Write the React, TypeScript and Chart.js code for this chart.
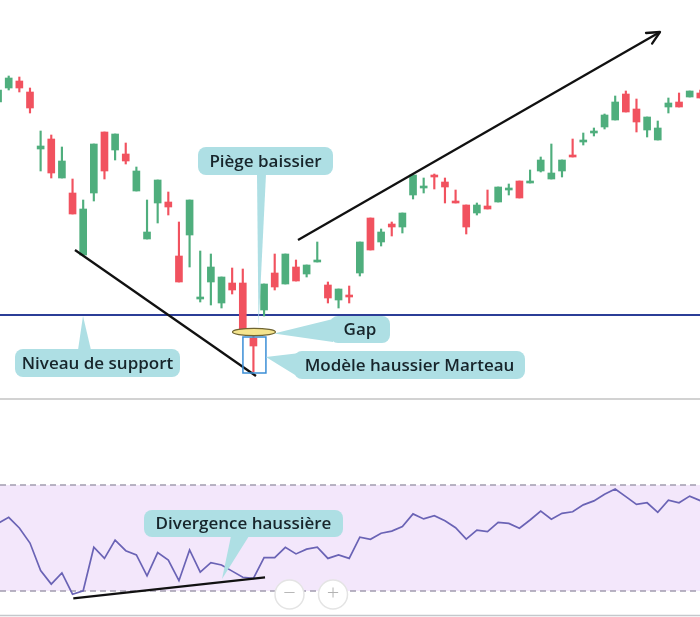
import { useEffect, useRef } from 'react';
import { Chart, registerables } from 'chart.js';

Chart.register(...registerables);

// ---- Data (price units, one entry per session) ----
const openP = [149,156,159.5,154,125.5,130.5,111,103.5,72.5,103.5,134,125,123,104.5,80.5,98.5,99,72,82.5,50.5,59,48.5,58.5,58.5,31,45,63.5,58,66.5,63,69,57.5,50,52.5,63.5,91,79,88,86.5,102.5,106,112.5,109,99.5,97.5,93.5,97,99,105,109.5,108.5,114.5,110.5,114.5,122.5,129,133.5,136.5,140,153,145.5,135,130,146.5,149,151.5,153.5];
const highP = [157,162,161.5,156,134.5,132.5,126.5,110.5,100,128,134,133,128.5,116.5,100,110,104,89,100,74.5,73,61.5,66,65.5,32.5,58,73,73,70,67.5,79,59,55.5,57,79,91,85.5,89,93.5,112.5,111,113,111,105,97.5,98.5,105,106.5,108,109.5,115,121.5,128,120,130.5,133.5,136,143,152,154.5,150.5,141.5,139.5,151,153.5,154.5,155];
const lowP = [147,155,154,143.5,114.5,111,111,93,72.5,99.5,110.5,120,118,104.5,80.5,88.5,92.5,59,66.5,49,47.5,46,53,35,14,42,55,58,59.5,61.5,69,48.5,46,48.5,62,75,77,82,83.5,100.5,103.5,105.5,98.5,98.5,83,92.5,95.5,99,102.5,101,108.5,114,110.5,111.5,121.5,127.5,132,135.5,140,144,134,131.5,130,143.5,146.5,151.5,151];
const closeP = [155,161,156,146,127,113.5,119.5,93,95.5,128,114.5,133,119.5,114.5,84,110,96.5,59,100,51.5,66.5,61.5,55,35.5,27,58,56.5,73,59.5,67.5,70,51,55.5,51.5,79,75,84,86.5,93.5,112.5,107,111.5,106.5,98.5,86.5,97.5,95.5,106.5,106,101,109.5,120,113.5,120,121.5,130,134.5,142.5,149,144,139,141.5,136,148.5,146.5,154.5,151];
const rsi = [55.5,57.8,53.8,48.1,37.7,32.6,36.8,28.8,30.1,46.5,42.3,49.2,45.2,43.6,35.7,44.5,41.7,33.9,45.5,37.1,40.7,39.8,37.5,35.2,34.8,42.6,42.6,46.5,44.0,45.8,46.5,42.3,43.6,42.3,50.3,49.5,51.8,52.6,54.3,59.1,57.2,58.4,56.5,53.9,49.6,53.0,52.4,55.9,55.5,53.7,56.8,60.2,57.1,59.3,59.9,62.5,64.0,66.5,68.5,65.6,62.7,63.3,59.7,64.3,63.3,65.8,64.1];

const supportLevel = 42.5;
const rsiUpper = 70;
const rsiLower = 30;
const downTrend = [[7.23, 75], [24.24, 12]];
const upTrend = [[28.19, 80], [62.21, 184]];
const rsiDivergence = [[7.07, 27.25], [25.09, 35.17]];
const gapIndex = 23;
const hammerIndex = 24;

const labelTrap = 'Piège baissier';
const labelGap = 'Gap';
const labelHammer = 'Modèle haussier Marteau';
const labelSupport = 'Niveau de support';
const labelDivergence = 'Divergence haussière';

// ---- Styles ----
const GREEN = '#4fae7d';
const RED = '#f1525f';
const TEAL = '#aedfe4';
const TEXT = '#17252b';
const FONT = '600 17px "Open Sans", sans-serif';
const X_MIN = 0.182;
const X_MAX = 65.97;

function callout(ctx: CanvasRenderingContext2D, box: number[], tail: number[][], text: string) {
  const [x, y, w, h] = box;
  ctx.save();
  ctx.fillStyle = TEAL;
  ctx.beginPath();
  ctx.roundRect(x, y, w, h, 8);
  ctx.fill();
  ctx.beginPath();
  ctx.moveTo(tail[0][0], tail[0][1]);
  for (let i = 1; i < tail.length; i++) ctx.lineTo(tail[i][0], tail[i][1]);
  ctx.closePath();
  ctx.fill();
  ctx.fillStyle = TEXT;
  ctx.font = FONT;
  ctx.textAlign = 'center';
  ctx.textBaseline = 'middle';
  ctx.fillText(text, x + w / 2, y + h / 2 + 1);
  ctx.restore();
}

function line(ctx: CanvasRenderingContext2D, x1: number, y1: number, x2: number, y2: number, color: string, w: number) {
  ctx.save();
  ctx.strokeStyle = color;
  ctx.lineWidth = w;
  ctx.beginPath();
  ctx.moveTo(x1, y1);
  ctx.lineTo(x2, y2);
  ctx.stroke();
  ctx.restore();
}

export default function App() {
  const topRef = useRef<HTMLCanvasElement>(null);
  const botRef = useRef<HTMLCanvasElement>(null);

  useEffect(() => {
    const colors = openP.map((o, i) => (closeP[i] >= o ? GREEN : RED));

    const topPlugin = {
      id: 'topAnno',
      beforeDatasetsDraw(chart: any) {
        const { ctx, scales } = chart;
        const y = scales.y.getPixelForValue(supportLevel);
        line(ctx, 0, y, 700, y, '#2b3d97', 2);
      },
      afterDatasetsDraw(chart: any) {
        const { ctx, scales } = chart;
        const px = (v: number) => scales.x.getPixelForValue(v);
        const py = (v: number) => scales.y.getPixelForValue(v);
        // down trend line
        line(ctx, px(downTrend[0][0]), py(downTrend[0][1]), px(downTrend[1][0]), py(downTrend[1][1]), '#111', 2.3);
        // up trend arrow
        const ax1 = px(upTrend[0][0]), ay1 = py(upTrend[0][1]);
        const ax2 = px(upTrend[1][0]), ay2 = py(upTrend[1][1]);
        line(ctx, ax1, ay1, ax2, ay2, '#111', 2.3);
        const ang = Math.atan2(ay2 - ay1, ax2 - ax1);
        const L = 14;
        ctx.save();
        ctx.strokeStyle = '#111';
        ctx.lineWidth = 2.3;
        ctx.lineCap = 'round';
        ctx.lineJoin = 'round';
        ctx.beginPath();
        ctx.moveTo(ax2 - L * Math.cos(ang - 0.45), ay2 - L * Math.sin(ang - 0.45));
        ctx.lineTo(ax2, ay2);
        ctx.lineTo(ax2 - L * Math.cos(ang + 0.45), ay2 - L * Math.sin(ang + 0.45));
        ctx.stroke();
        ctx.restore();

        // hammer rectangle
        const hx = px(hammerIndex);
        const hTop = py(highP[hammerIndex]) + 2;
        const hBot = py(lowP[hammerIndex]) + 1;
        ctx.save();
        ctx.strokeStyle = '#3b8ed6';
        ctx.lineWidth = 1.5;
        ctx.strokeRect(hx - 10.5, hTop, 23, hBot - hTop);
        ctx.restore();

        // callouts
        const sy = py(supportLevel);
        callout(ctx, [15, 349, 165, 28], [[78, 350], [91, 350], [83, sy + 1]], labelSupport);
        callout(ctx, [198, 147, 135, 28], [[257, 174], [266, 174], [258.5, 327]], labelTrap);
        const gx = px(gapIndex + 1.05);
        const gy = py((closeP[gapIndex] + openP[gapIndex + 1]) / 2);
        callout(ctx, [330, 316, 60, 27], [[gx + 20, gy], [333, 319], [333, 342]], labelGap);
        callout(ctx, [294, 351, 231, 28], [[hx + 12.5, (hTop + hBot) / 2 + 2], [300, 353], [300, 378]], labelHammer);

        // gap ellipse
        ctx.save();
        ctx.fillStyle = '#f4e48e';
        ctx.strokeStyle = '#6f6431';
        ctx.lineWidth = 1.2;
        ctx.beginPath();
        ctx.ellipse(gx, gy - 1.5, 21.5, 3.6, 0, 0, Math.PI * 2);
        ctx.fill();
        ctx.stroke();
        ctx.restore();

        // panel separator
        line(ctx, 0, 399, 700, 399, '#d2d2d2', 2);
      },
    };

    const top = new Chart(topRef.current!, {
      type: 'bar',
      data: {
        datasets: [
          {
            data: openP.map((o, i) => ({ x: i, y: [o, closeP[i]] })) as any,
            backgroundColor: colors,
            barThickness: 7,
            minBarLength: 2,
            grouped: false,
          } as any,
          {
            data: lowP.map((l, i) => ({ x: i, y: [l, highP[i]] })) as any,
            backgroundColor: colors,
            barThickness: 1.5,
            grouped: false,
          } as any,
        ],
      },
      options: {
        animation: false,
        responsive: false,
        layout: { padding: 0 },
        plugins: { legend: { display: false }, tooltip: { enabled: false } },
        scales: {
          x: { type: 'linear', min: X_MIN, max: X_MAX, offset: false, display: false },
          y: { min: 0, max: 200, display: false },
        },
      },
      plugins: [topPlugin],
    });

    const botPlugin = {
      id: 'botAnno',
      beforeDatasetsDraw(chart: any) {
        const { ctx, scales } = chart;
        const yU = scales.y.getPixelForValue(rsiUpper);
        const yL = scales.y.getPixelForValue(rsiLower);
        ctx.save();
        ctx.fillStyle = '#f3e7fb';
        ctx.fillRect(0, yU, 700, yL - yU);
        ctx.strokeStyle = '#a39db0';
        ctx.lineWidth = 1.3;
        ctx.setLineDash([6, 4]);
        ctx.beginPath();
        ctx.moveTo(0, yU);
        ctx.lineTo(700, yU);
        ctx.moveTo(0, yL);
        ctx.lineTo(700, yL);
        ctx.stroke();
        ctx.restore();
      },
      afterDatasetsDraw(chart: any) {
        const { ctx, scales } = chart;
        const px = (v: number) => scales.x.getPixelForValue(v);
        const py = (v: number) => scales.y.getPixelForValue(v);
        line(ctx, px(rsiDivergence[0][0]), py(rsiDivergence[0][1]), px(rsiDivergence[1][0]), py(rsiDivergence[1][1]), '#111', 2.2);
        callout(ctx, [144, 110, 199, 27], [[231, 136], [249, 136], [222, 179]], labelDivergence);
        // zoom buttons
        const btns: [number, string][] = [[289.5, '−'], [333, '+']];
        btns.forEach(([bx, s]) => {
          ctx.save();
          ctx.fillStyle = '#ffffff';
          ctx.strokeStyle = '#e4e4e4';
          ctx.lineWidth = 1.5;
          ctx.beginPath();
          ctx.arc(bx, 194.5, 14.5, 0, Math.PI * 2);
          ctx.fill();
          ctx.stroke();
          ctx.fillStyle = '#b3b3b3';
          ctx.font = '300 22px "Open Sans", sans-serif';
          ctx.textAlign = 'center';
          ctx.textBaseline = 'middle';
          ctx.fillText(s, bx, 193.5);
          ctx.restore();
        });
        line(ctx, 0, 215.5, 700, 215.5, '#c4c8cc', 1.5);
      },
    };

    const bot = new Chart(botRef.current!, {
      type: 'line',
      data: {
        datasets: [
          {
            data: rsi.map((v, i) => ({ x: i, y: v })),
            borderColor: '#6a63b5',
            borderWidth: 1.7,
            pointRadius: 0,
            tension: 0,
            fill: false,
          },
        ],
      },
      options: {
        animation: false,
        responsive: false,
        layout: { padding: 0 },
        plugins: { legend: { display: false }, tooltip: { enabled: false } },
        scales: {
          x: { type: 'linear', min: X_MIN, max: X_MAX, display: false },
          y: { min: 20.19, max: 102.08, display: false },
        },
      },
      plugins: [botPlugin],
    });

    return () => {
      top.destroy();
      bot.destroy();
    };
  }, []);

  return (
    <div style={{ position: 'absolute', left: 0, top: 0, width: 700, height: 617, background: '#ffffff' }}>
      <canvas ref={topRef} width={700} height={400} style={{ display: 'block', width: 700, height: 400 }} />
      <canvas ref={botRef} width={700} height={217} style={{ display: 'block', width: 700, height: 217 }} />
    </div>
  );
}
